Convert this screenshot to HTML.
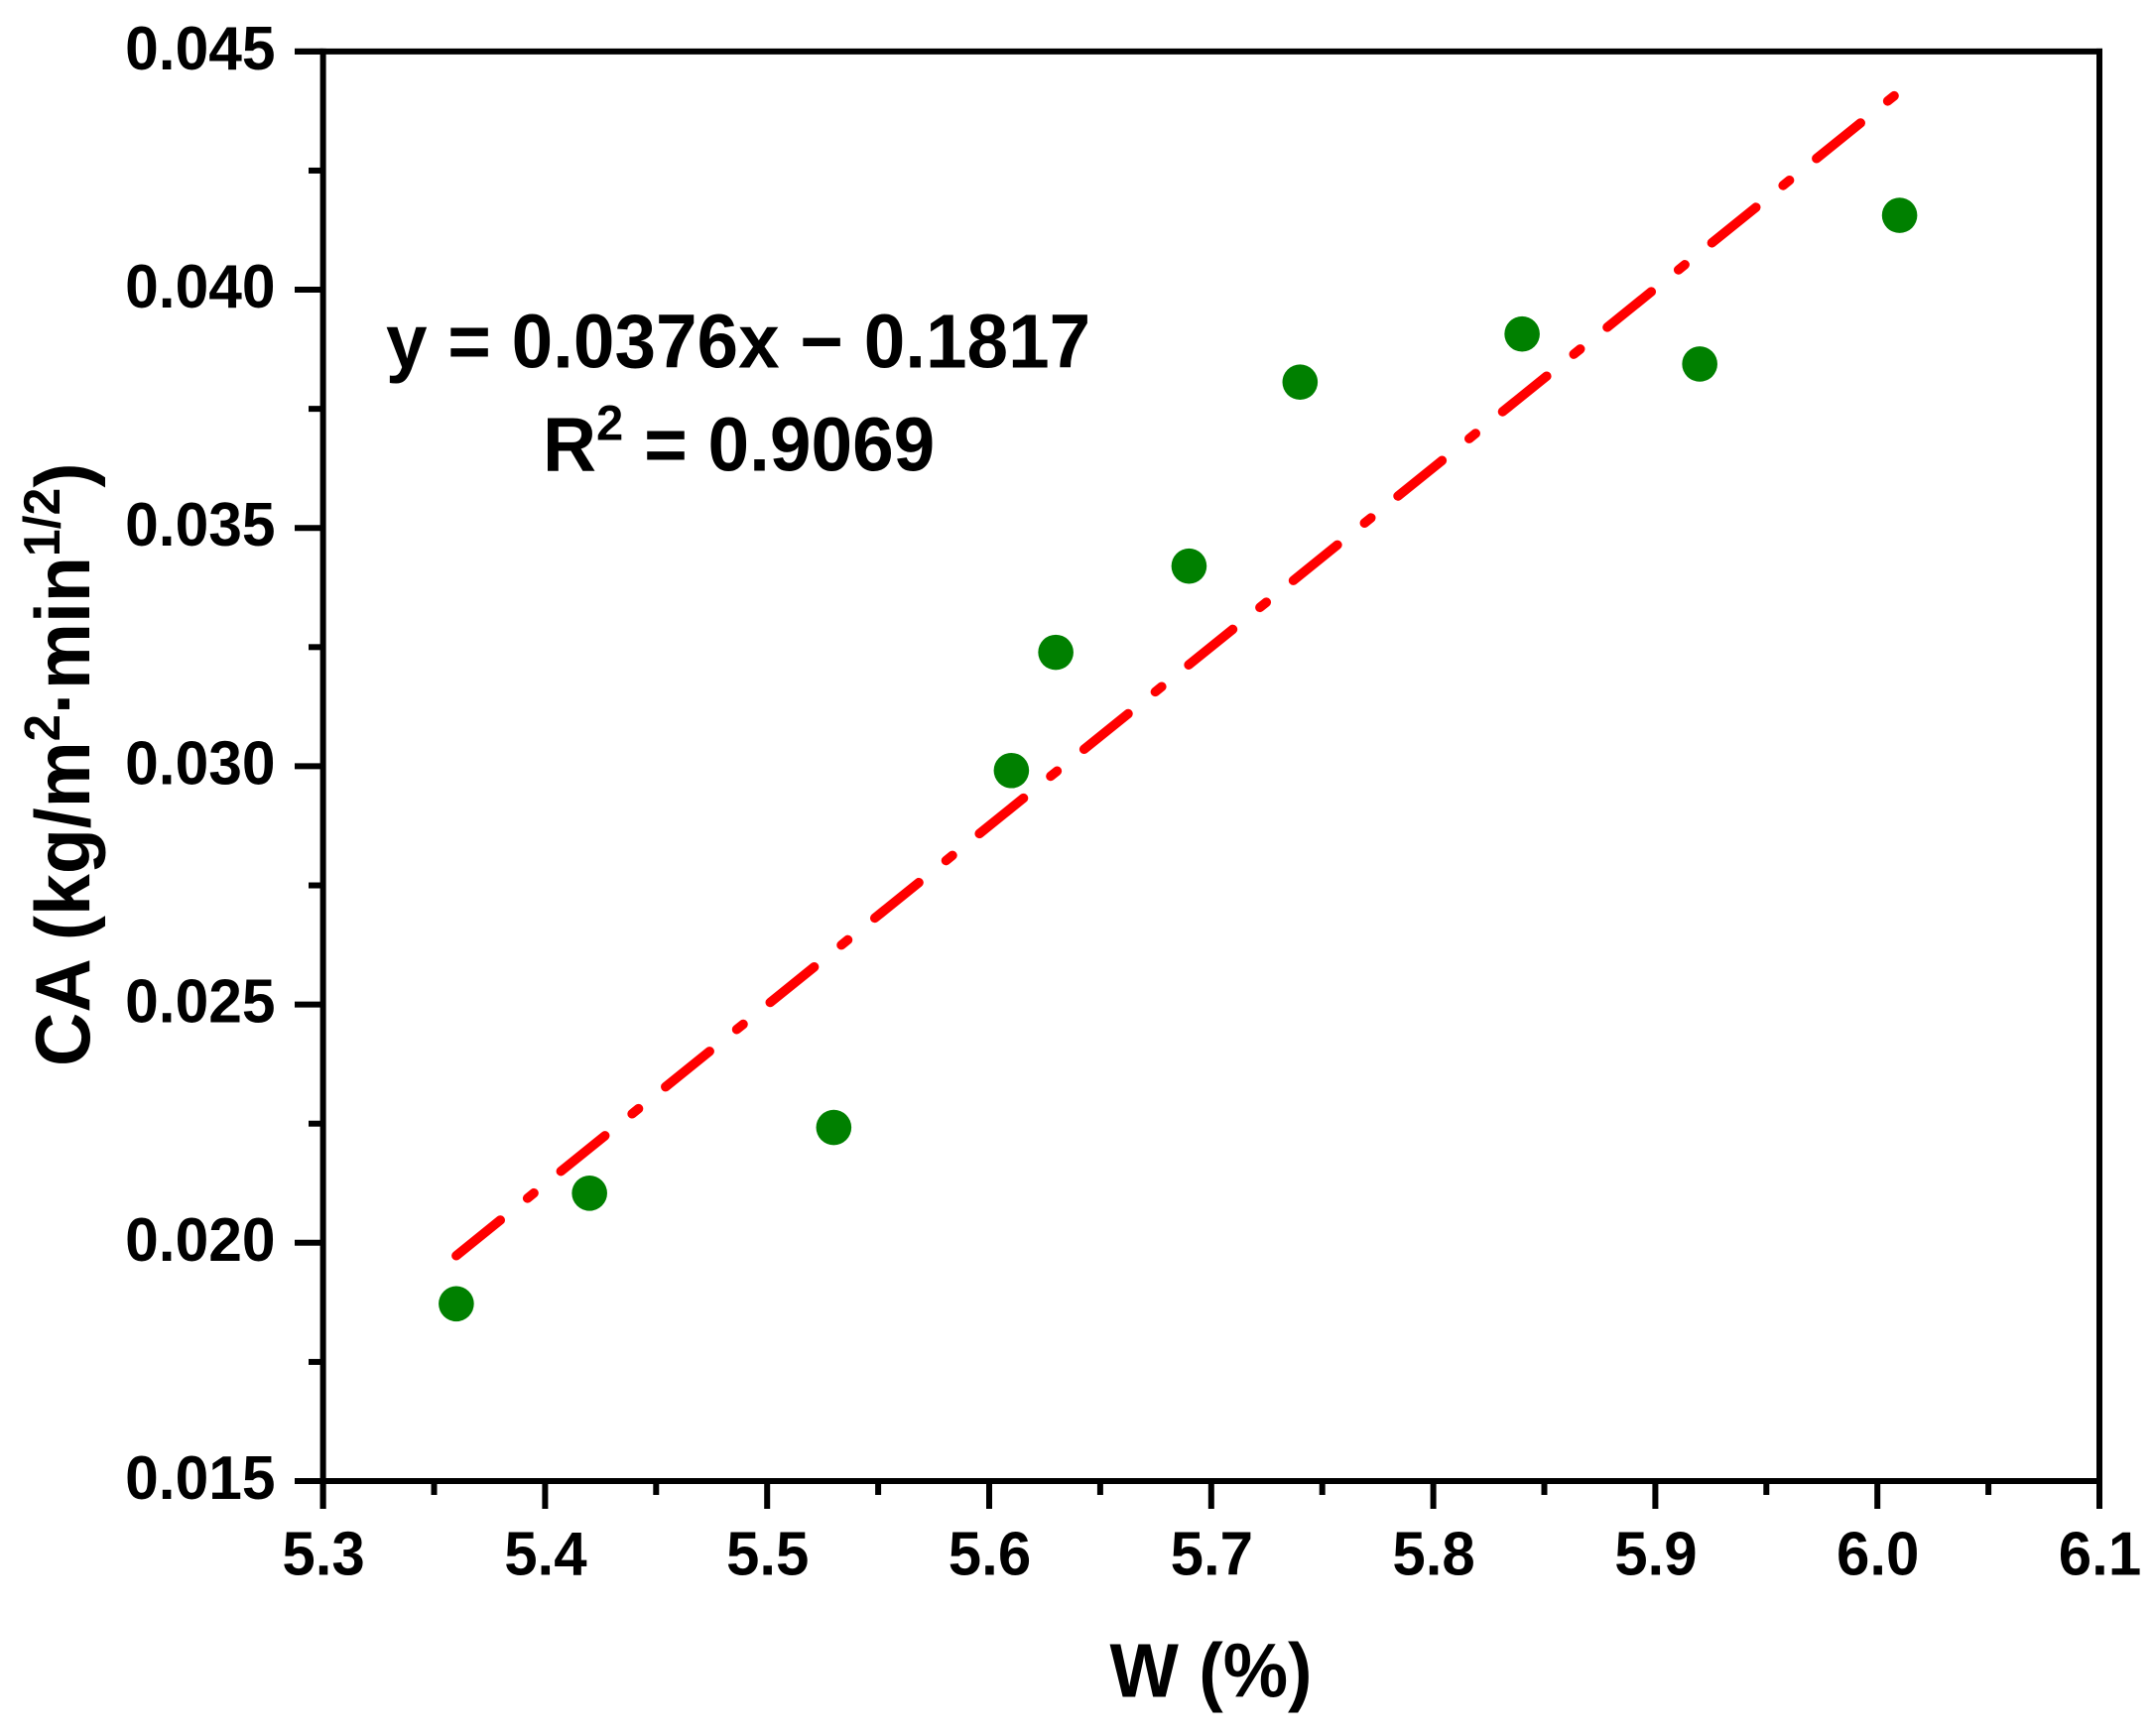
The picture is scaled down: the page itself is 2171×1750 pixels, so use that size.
<!DOCTYPE html>
<html lang="en">
<head>
<meta charset="utf-8">
<title>CA vs W scatter chart</title>
<style>
html,body{margin:0;padding:0;background:#fff}
svg{display:block}
text{font-family:"Liberation Sans",Arial,sans-serif;font-weight:bold;fill:#000}
</style>
</head>
<body>
<svg id="chart" xmlns="http://www.w3.org/2000/svg" width="2171" height="1750" viewBox="0 0 2171 1750">
<rect x="0" y="0" width="2171" height="1750" fill="#fff"/>
<g id="marks"></g>
<g id="axes"></g>
<text transform="translate(1220.5,1710.5) scale(1,1.05)" font-size="73.5" text-anchor="middle">W (%)</text>
<text transform="translate(90,1075) rotate(-90) scale(1,1.04)" font-size="75.3">CA (kg/m<tspan font-size="49" dy="-29">2</tspan><tspan dy="29">·min</tspan><tspan font-size="50" dy="-29">1/2</tspan><tspan dy="29">)</tspan></text>
<text transform="translate(389,370.5) scale(1,1.03)" font-size="74.7">y = 0.0376x − 0.1817</text>
<text transform="translate(547,474.5) scale(1,1.03)" font-size="74.8">R<tspan font-size="49" dy="-30">2</tspan><tspan dy="30"> = 0.9069</tspan></text>
</svg>
<script>
const pointW = [5.36, 5.42, 5.53, 5.61, 5.63, 5.69, 5.74, 5.84, 5.92, 6.01];
const pointCA = [0.01872, 0.02104, 0.02242, 0.02991, 0.03239, 0.03420, 0.03806, 0.03907, 0.03844, 0.04156];
const fitW = [5.36, 6.01];
const fitCA = [0.01973, 0.04416];
const xTickValues = [5.3, 5.4, 5.5, 5.6, 5.7, 5.8, 5.9, 6.0, 6.1];
const xTickLabels = ["5.3", "5.4", "5.5", "5.6", "5.7", "5.8", "5.9", "6.0", "6.1"];
const xMinorValues = [5.35, 5.45, 5.55, 5.65, 5.75, 5.85, 5.95, 6.05];
const yTickValues = [0.015, 0.020, 0.025, 0.030, 0.035, 0.040, 0.045];
const yTickLabels = ["0.015", "0.020", "0.025", "0.030", "0.035", "0.040", "0.045"];
const yMinorValues = [0.0175, 0.0225, 0.0275, 0.0325, 0.0375, 0.0425];

const NS = "http://www.w3.org/2000/svg";
const plotLeft = 325.6, plotRight = 2116, plotTop = 51.85, plotBottom = 1493;
const xScale = v => plotLeft + (v - 5.3) / (6.1 - 5.3) * (plotRight - plotLeft);
const yScale = v => plotBottom - (v - 0.015) / (0.045 - 0.015) * (plotBottom - plotTop);
const marks = document.getElementById("marks");
const axes = document.getElementById("axes");

function svgEl(tag, attrs, parent) {
  const el = document.createElementNS(NS, tag);
  for (const k in attrs) el.setAttribute(k, attrs[k]);
  parent.appendChild(el);
  return el;
}

const fit = svgEl("line", {x1: xScale(fitW[0]), y1: yScale(fitCA[0]), x2: xScale(fitW[1]), y2: yScale(fitCA[1]), stroke: "#ff0000", "stroke-width": 9.5, "stroke-linecap": "round", "stroke-dasharray": "57 35.2 8.3 35"}, marks);



pointW.forEach((w, i) => {
  const c = svgEl("circle", {cx: xScale(w), cy: yScale(pointCA[i]), r: 17.8, fill: "#008000"}, marks);
  
  
});

const spineStyle = {stroke: "#000", "stroke-width": 6};
const spineTop = svgEl("line", Object.assign({x1: 297, y1: plotTop, x2: plotRight + 3, y2: plotTop}, spineStyle), axes);


const spineBottom = svgEl("line", Object.assign({x1: 297, y1: plotBottom, x2: plotRight + 3, y2: plotBottom}, spineStyle), axes);


const spineLeft = svgEl("line", Object.assign({x1: plotLeft, y1: plotTop - 3, x2: plotLeft, y2: plotBottom + 28}, spineStyle), axes);


const spineRight = svgEl("line", Object.assign({x1: plotRight, y1: plotTop - 3, x2: plotRight, y2: plotBottom + 28}, spineStyle), axes);



xTickValues.forEach((v, i) => {
  const t = svgEl("line", Object.assign({x1: xScale(v), y1: plotBottom, x2: xScale(v), y2: plotBottom + 28}, spineStyle), axes);
  
  
  const l = svgEl("text", {transform: "translate(" + (xScale(v) + 0.5) + ",1587.5) scale(1,1.03)", "font-size": 60, "text-anchor": "middle"}, axes);
  l.textContent = xTickLabels[i];
  
  
});
xMinorValues.forEach(v => {
  const t = svgEl("line", Object.assign({x1: xScale(v), y1: plotBottom, x2: xScale(v), y2: plotBottom + 14}, spineStyle), axes);
  
  
});
yTickValues.forEach((v, i) => {
  const t = svgEl("line", Object.assign({x1: 297, y1: yScale(v), x2: plotLeft, y2: yScale(v)}, spineStyle), axes);
  
  
  const l = svgEl("text", {transform: "translate(277.5," + (yScale(v) + 18) + ") scale(1,1.03)", "font-size": 60.5, "text-anchor": "end"}, axes);
  l.textContent = yTickLabels[i];
  
  
});
yMinorValues.forEach(v => {
  const t = svgEl("line", Object.assign({x1: 311, y1: yScale(v), x2: plotLeft, y2: yScale(v)}, spineStyle), axes);
  
  
});
</script>
</body>
</html>
